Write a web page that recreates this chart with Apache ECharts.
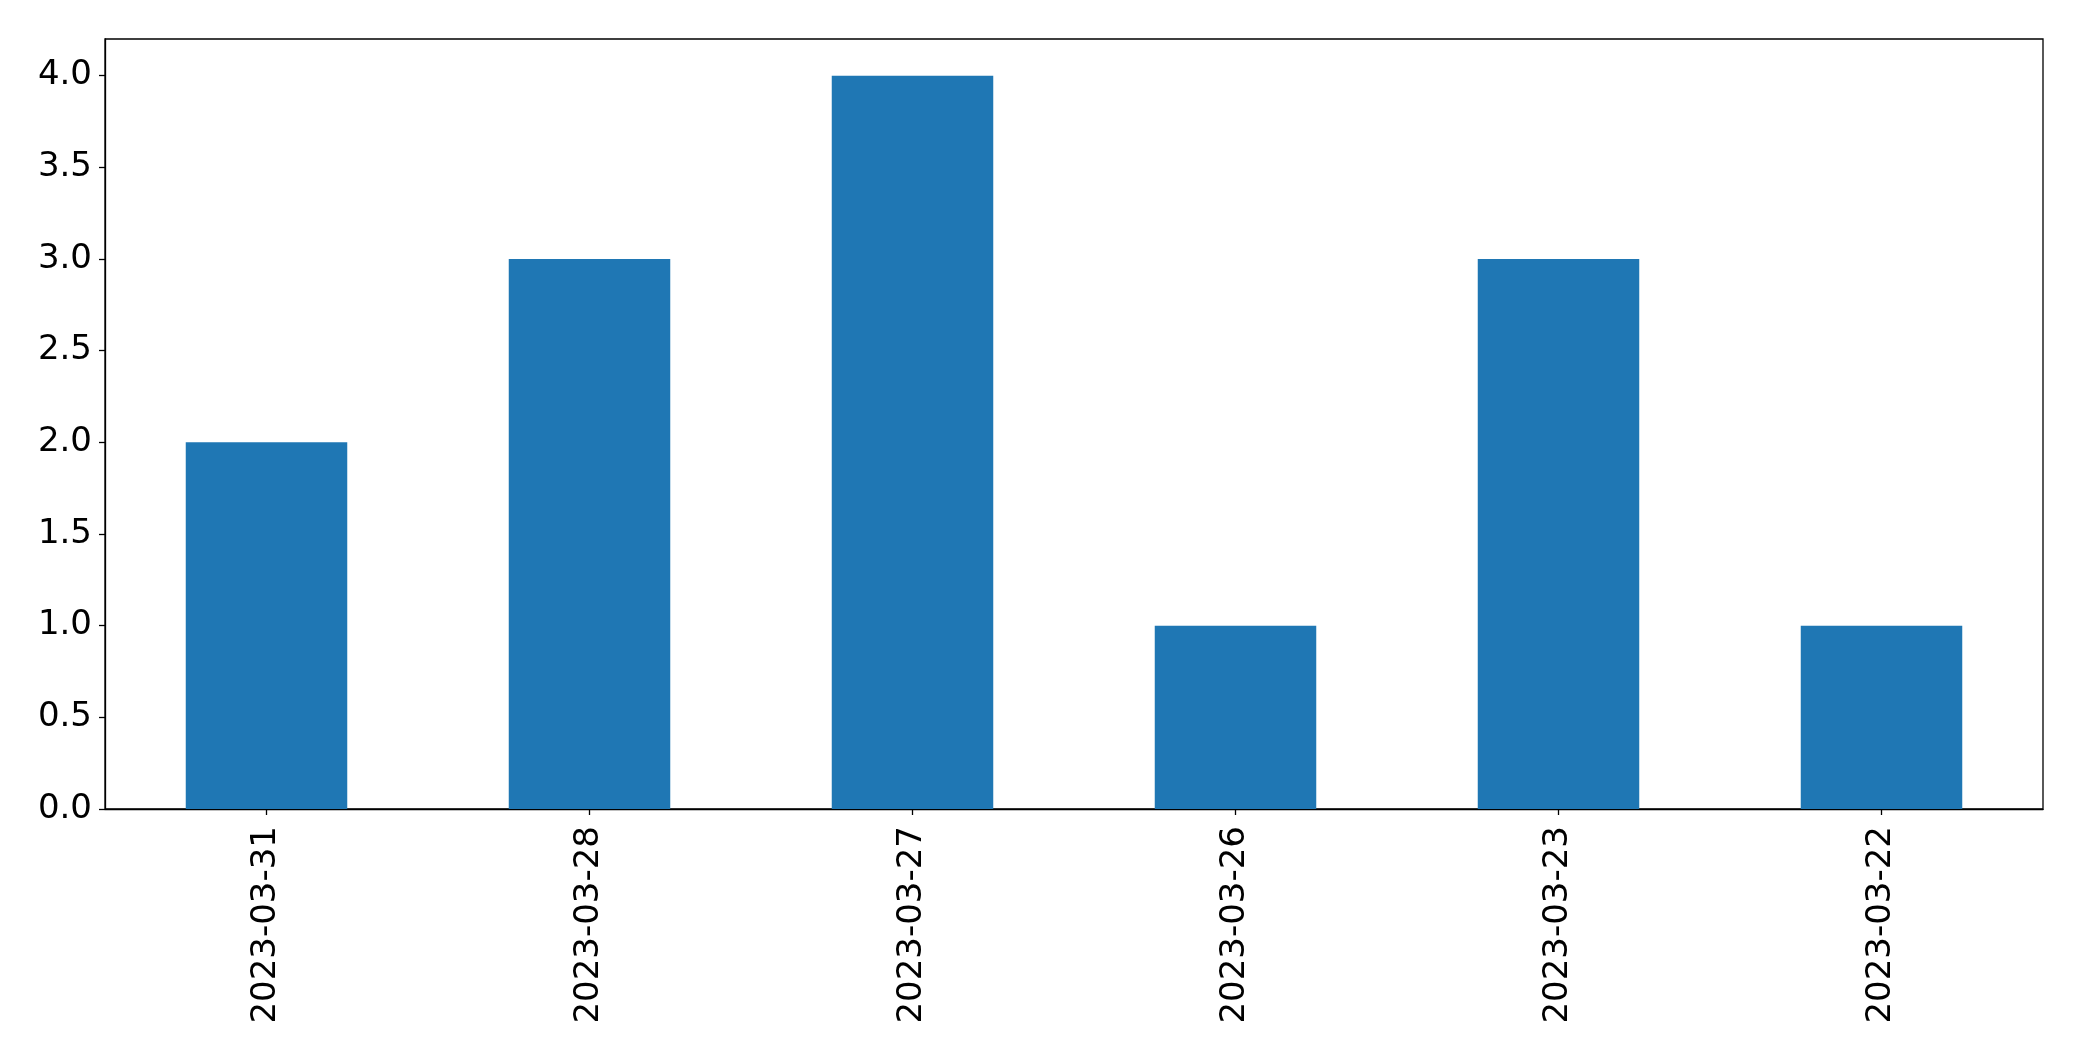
<!DOCTYPE html>
<html>
<head>
<meta charset="utf-8">
<script src="https://cdn.jsdelivr.net/npm/echarts@6/dist/echarts.min.js"></script>
<style>html,body{margin:0;padding:0;background:#fff;}#c{width:2082px;height:1061px;}</style>
</head>
<body>
<div id="c"></div>
<script>
const categories = ['2023-03-31', '2023-03-28', '2023-03-27', '2023-03-26', '2023-03-23', '2023-03-22'];
const values = [2, 3, 4, 1, 3, 1];
const yTicks = [0, 0.5, 1.0, 1.5, 2.0, 2.5, 3.0, 3.5, 4.0];
const yMin = 0, yMax = 4.2, yInterval = 0.5;

const chart = echarts.init(document.getElementById('c'));
const font = 'DejaVu Sans';
chart.setOption({
  animation: false,
  grid: { left: 105, right: 39, top: 39, bottom: 252, show: true, borderColor: '#000', borderWidth: 1.3, backgroundColor: 'transparent' },
  xAxis: {
    type: 'category',
    data: categories,
    axisLine: { show: true, lineStyle: { color: '#000', width: 1.3 } },
    axisTick: { show: true, alignWithLabel: true, length: 6, lineStyle: { color: '#000', width: 1.3 } },
    axisLabel: { rotate: 90, fontSize: 34, fontFamily: font, color: '#000', margin: 17, interval: 0 },
    splitLine: { show: false }
  },
  yAxis: {
    type: 'value',
    min: yMin, max: yMax, interval: yInterval,
    axisLine: { show: true, lineStyle: { color: '#000', width: 1.3 } },
    axisTick: { show: true, length: 6, customValues: yTicks, lineStyle: { color: '#000', width: 1.3 } },
    axisLabel: { fontSize: 34, fontFamily: font, color: '#000', margin: 13, customValues: yTicks,
      formatter: v => Number(v).toFixed(1) },
    splitLine: { show: false }
  },
  series: [{
    type: 'bar',
    data: values,
    barWidth: '50%',
    itemStyle: { color: '#1f77b4' }
  }]
});
</script>
</body>
</html>
